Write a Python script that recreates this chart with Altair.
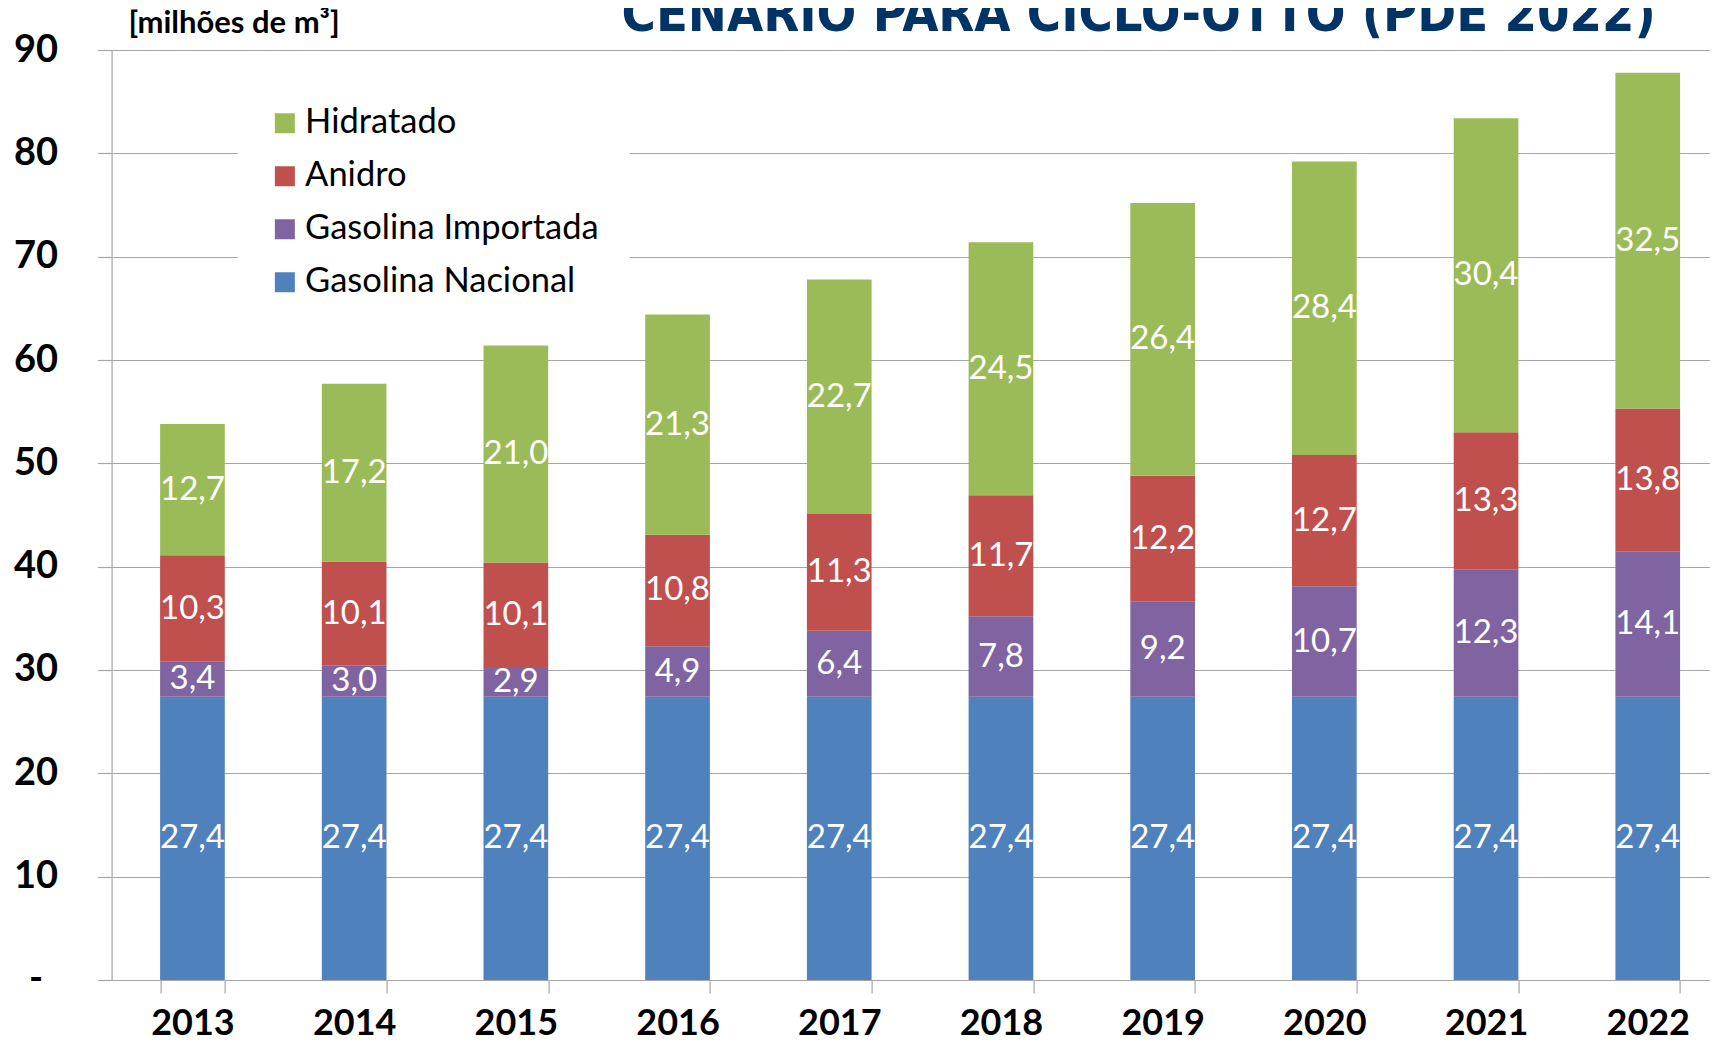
import altair as alt
import pandas as pd

years = ["2013", "2014", "2015", "2016", "2017", "2018", "2019", "2020", "2021", "2022"]
gasolina_nacional = [27.4, 27.4, 27.4, 27.4, 27.4, 27.4, 27.4, 27.4, 27.4, 27.4]
gasolina_importada = [3.4, 3.0, 2.9, 4.9, 6.4, 7.8, 9.2, 10.7, 12.3, 14.1]
anidro = [10.3, 10.1, 10.1, 10.8, 11.3, 11.7, 12.2, 12.7, 13.3, 13.8]
hidratado = [12.7, 17.2, 21.0, 21.3, 22.7, 24.5, 26.4, 28.4, 30.4, 32.5]

stack_names = ["Gasolina Nacional", "Gasolina Importada", "Anidro", "Hidratado"]
legend_names = ["Hidratado", "Anidro", "Gasolina Importada", "Gasolina Nacional"]
legend_colors = ["#9BBB59", "#C0504D", "#8064A2", "#4F81BD"]
y_ticks = [0, 10, 20, 30, 40, 50, 60, 70, 80, 90]

title_text = "CENÁRIO PARA CICLO-OTTO (PDE 2022)"
unit_text = "[milhões de m³]"

rows = []
for si, (name, vals) in enumerate(zip(stack_names, [gasolina_nacional, gasolina_importada, anidro, hidratado])):
    for yr, v in zip(years, vals):
        rows.append({"year": yr, "series": name, "value": v, "ord": si,
                     "label": f"{v:.1f}".replace(".", ",")})
df = pd.DataFrame(rows)
df["base"] = df.groupby("year")["value"].cumsum() - df["value"]
df["mid"] = df["base"] + df["value"] / 2

grey = "#a6a6a6"

x_axis = alt.Axis(title=None, labelAngle=0, labelFont="Lato", labelFontWeight="bold",
                  labelFontSize=36, labelColor="black", labelBaseline="alphabetic",
                  labelPadding=42, tickSize=13, tickColor=grey, tickWidth=1.2,
                  tickBand="extent", domainColor=grey, domainWidth=1.2, grid=False)
x_scale = alt.Scale(range=[0, 1617], paddingInner=0.6, paddingOuter=0.3)

y_axis = alt.Axis(title=None, values=y_ticks,
                  labelExpr="datum.value == 0 ? '-' : datum.label",
                  labelFont="Lato", labelFontWeight="bold", labelFontSize=38,
                  labelColor="black", labelAlign="center", labelBaseline="middle",
                  labelPadding=62, tickSize=14, tickColor=grey, tickWidth=1.2,
                  domainColor=grey, domainWidth=1.2, gridColor=grey, gridWidth=1.2)
y_scale = alt.Scale(domain=[0, 90], nice=False)

bars = alt.Chart(df).mark_bar().encode(
    x=alt.X("year:N", sort=years, scale=x_scale, axis=x_axis),
    y=alt.Y("value:Q", stack="zero", scale=y_scale, axis=y_axis),
    color=alt.Color("series:N",
                    scale=alt.Scale(domain=legend_names, range=legend_colors),
                    legend=alt.Legend(title=None, orient="none", legendX=126, legendY=26,
                                      direction="vertical", symbolType="square",
                                      symbolSize=400, symbolStrokeWidth=0,
                                      labelFont="Lato", labelFontSize=34.5,
                                      labelColor="black", labelOffset=3,
                                      rowPadding=18, fillColor="white", padding=30,
                                      labelLimit=600)),
    order=alt.Order("ord:Q", sort="ascending"),
)

labels = alt.Chart(df).mark_text(color="white", font="Lato", fontSize=33,
                                 baseline="middle", align="center").encode(
    x=alt.X("year:N", sort=years, scale=x_scale, axis=x_axis),
    y=alt.Y("mid:Q", scale=y_scale, axis=y_axis),
    text="label:N",
)

title = alt.Chart(pd.DataFrame({"t": [title_text]})).mark_text(
    font="DejaVu Sans Condensed, Liberation Sans, sans-serif", fontWeight="bold",
    fontSize=52, color="#003366",
    align="left", baseline="alphabetic").encode(
    x=alt.value(510), y=alt.value(-19), text="t:N")

unit = alt.Chart(pd.DataFrame({"t": [unit_text]})).mark_text(
    font="Lato", fontWeight="bold", fontSize=31, color="black",
    align="left", baseline="alphabetic").encode(
    x=alt.value(17), y=alt.value(-17), text="t:N")

chart = alt.layer(bars, labels, title, unit).properties(
    width=1598, height=930,
    autosize=alt.AutoSizeParams(type="none"),
    padding={"left": 103.6, "top": 42, "right": 0, "bottom": 63},
    background="white",
).configure_view(stroke=None)

chart.save("out.html", embed_options={"renderer": "svg", "actions": False})
